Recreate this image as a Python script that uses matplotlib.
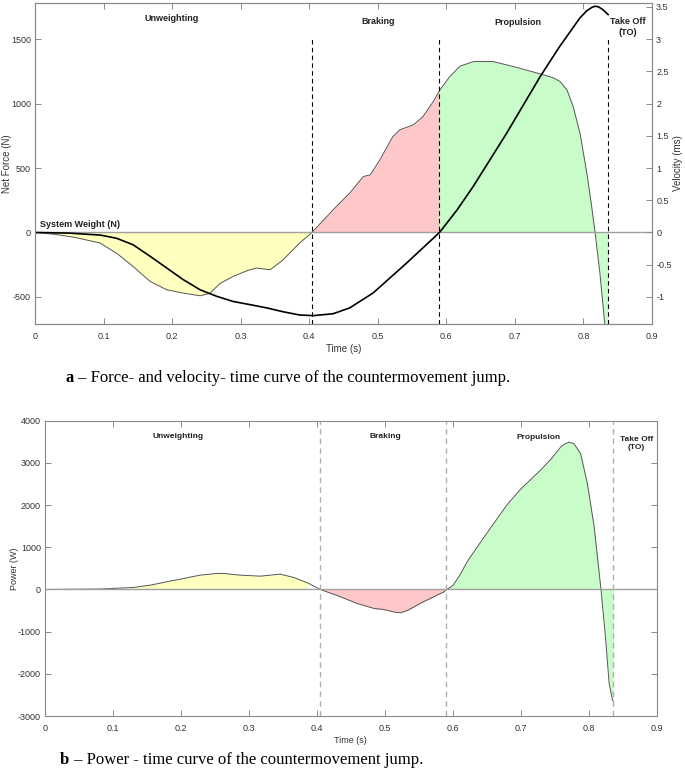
import numpy as np
import matplotlib
matplotlib.use("Agg")
import matplotlib.pyplot as plt

plt.rcParams['font.family'] = ['Liberation Sans', 'DejaVu Sans']
plt.rcParams['axes.unicode_minus'] = False

# ---------- data ----------
# net force (N) vs time (s)
force_t = [0, 0.03, 0.06, 0.095, 0.12, 0.143, 0.168, 0.192, 0.216, 0.241, 0.255, 0.27,
           0.289, 0.31, 0.323, 0.343, 0.362, 0.386, 0.404, 0.435, 0.459, 0.479, 0.489,
           0.503, 0.522, 0.532, 0.552, 0.566, 0.581, 0.590, 0.605, 0.620, 0.640, 0.668,
           0.698, 0.737, 0.756, 0.766, 0.776, 0.785, 0.795, 0.805, 0.812, 0.817, 0.824,
           0.831, 0.836]
force_n = [0, -15, -40, -82, -165, -263, -380, -444, -470, -491, -472, -395,
           -341, -295, -276, -289, -212, -82, 0, 176, 305, 434, 447,
           563, 744, 796, 835, 899, 1016, 1100, 1209, 1290, 1326, 1326,
           1287, 1230, 1200, 1171, 1106, 977, 770, 460, 202, 0, -315,
           -703, -950]

# velocity (m/s) vs time (s)
vel_t = [0, 0.05, 0.095, 0.119, 0.143, 0.168, 0.192, 0.216, 0.241, 0.265, 0.289, 0.314,
         0.338, 0.362, 0.386, 0.406, 0.435, 0.459, 0.493, 0.542, 0.590, 0.615, 0.639,
         0.688, 0.737, 0.765, 0.785, 0.795, 0.805, 0.812, 0.817, 0.822, 0.828, 0.832,
         0.836]
vel_ms = [0, -0.01, -0.04, -0.09, -0.19, -0.37, -0.55, -0.73, -0.89, -0.99, -1.07, -1.12,
          -1.17, -1.23, -1.28, -1.29, -1.26, -1.17, -0.94, -0.475, 0, 0.34, 0.71,
          1.54, 2.42, 2.88, 3.18, 3.33, 3.44, 3.49, 3.51, 3.50, 3.46, 3.42,
          3.38]

# power (W) vs time (s)
pow_t = [0, 0.081, 0.13, 0.155, 0.179, 0.204, 0.228, 0.253, 0.263, 0.287, 0.317, 0.346,
         0.366, 0.386, 0.405, 0.435, 0.459, 0.484, 0.498, 0.515, 0.523, 0.533, 0.543,
         0.557, 0.567, 0.577, 0.587, 0.591, 0.600, 0.610, 0.622, 0.640, 0.660, 0.680,
         0.700, 0.729, 0.745, 0.759, 0.766, 0.771, 0.778, 0.788, 0.798, 0.808, 0.818,
         0.825, 0.830, 0.835, 0.836]
pow_w = [0, 10, 47, 102, 181, 260, 339, 379, 379, 339, 315, 363,
         284, 158, 0, -174, -332, -450, -474, -540, -553, -500, -412,
         -290, -213, -134, -57, 0, 90, 330, 680, 1100, 1560, 2010,
         2380, 2827, 3100, 3380, 3460, 3490, 3460, 3223, 2512, 1483, 0,
         -1201, -2227, -2623, -2650]

# phase boundaries (s)
t_brake = 0.404
t_prop = 0.590
t_to = 0.836

phases = ["Unweighting", "Braking", "Propulsion", "Take Off\n(TO)"]
phase_cols = ["#ffffc0", "#ffc8c8", "#c8fcc8"]

spine_col = "#8a8a8a"
txt_col = "#333333"

fig = plt.figure(figsize=(6.85, 7.68), dpi=100)


def style(ax):
    for s in ax.spines.values():
        s.set_color(spine_col)
        s.set_linewidth(0.8)
    ax.tick_params(direction="in", length=4, width=0.7, color=spine_col,
                   labelsize=6.5, labelcolor=txt_col, pad=3)


def shade(ax, t, y):
    t = np.array(t)
    y = np.array(y)
    bounds = [0, t_brake, t_prop, t_to]
    for i in range(3):
        m = (t >= bounds[i] - 1e-9) & (t <= bounds[i + 1] + 1e-9)
        ax.fill_between(t[m], y[m], 0, color=phase_cols[i], lw=0)
    ax.plot(t, y, color="#555555", lw=0.7)


xt = np.arange(0, 0.91, 0.1)
xtl = ["0", "0.1", "0.2", "0.3", "0.4", "0.5", "0.6", "0.7", "0.8", "0.9"]

# ---------- (a) force and velocity ----------
ax1 = fig.add_axes([0.0511, 0.5781, 0.9007, 0.418])
shade(ax1, force_t, force_n)
ax1.axhline(0, color="#a0a0a0", lw=1.0)
for tx in [t_brake, t_prop, t_to]:
    ax1.plot([tx, tx], [-710, 1500], color="black", lw=0.8, ls=(0, (4, 3)))
ax1.set_xlim(0, 0.9)
ax1.set_ylim(-710, 1780)
ax1.set_xticks(xt)
ax1.set_xticklabels(xtl)
ax1.set_yticks([-500, 0, 500, 1000, 1500])
style(ax1)
ax1.tick_params(axis="x", top=True, pad=6)
ax1.set_xlabel("Time (s)", fontsize=7, color=txt_col, labelpad=2)
ax1.set_ylabel("Net Force (N)", fontsize=7, color=txt_col)
ax1.yaxis.set_label_coords(-0.037, 0.5)

ax2 = ax1.twinx()
ax2.plot(vel_t, vel_ms, color="black", lw=1.2)
ax2.set_ylim(-1.42, 3.56)
ax2.set_yticks(np.arange(-1, 3.51, 0.5))
ax2.set_yticklabels(["-1", "-0.5", "0", "0.5", "1", "1.5", "2", "2.5", "3", "3.5"])
style(ax2)
ax2.set_ylabel("Velocity (ms)", fontsize=7, color=txt_col)
ax2.yaxis.set_label_coords(1.034, 0.5)

lab_a = [(0.2, 1657), (0.5, 1640), (0.704, 1625), (0.865, 1595)]
for name, (x, y) in zip(phases, lab_a):
    ax1.text(x, y, name, ha="center", va="center", fontsize=6.5,
             fontweight="bold", color="#222222", linespacing=1.3)
ax1.text(0.008, 25, "System Weight (N)", ha="left", va="bottom", fontsize=6.5,
         fontweight="bold", color="#222222")

# ---------- (b) power ----------
ax3 = fig.add_axes([0.0657, 0.0677, 0.893, 0.3845])
shade(ax3, pow_t, pow_w)
ax3.axhline(0, color="#a0a0a0", lw=1.0)
for tx in [t_brake, t_prop, t_to]:
    ax3.axvline(tx, color="#b0b0b0", lw=1.0, ls=(0, (4, 3)))
ax3.set_xlim(0, 0.9)
ax3.set_ylim(-3000, 4000)
ax3.set_xticks(xt)
ax3.set_xticklabels(xtl)
ax3.set_yticks(np.arange(-3000, 4001, 1000))
style(ax3)
ax3.tick_params(top=True, right=True)
ax3.tick_params(axis="x", pad=6)
ax3.set_xlabel("Time (s)", fontsize=6.5, color=txt_col, labelpad=2)
ax3.set_ylabel("Power (W)", fontsize=6.5, color=txt_col)
ax3.yaxis.set_label_coords(-0.043, 0.5)

lab_b = [(0.196, 3616), (0.501, 3630), (0.726, 3610), (0.87, 3460)]
for name, (x, y) in zip(phases, lab_b):
    ax3.text(x, y, name, ha="center", va="center", fontsize=6,
             fontweight="bold", color="#222222", linespacing=1.3)

# ---------- captions ----------
fig.canvas.draw()
rend = fig.canvas.get_renderer()
W = fig.bbox.width


def caption(x, y, lead, rest):
    t = fig.text(x, y, lead, fontsize=12, va="center", family="Liberation Serif",
                 fontweight="bold")
    bb = t.get_window_extent(renderer=rend)
    fig.text(bb.x1 / W, y, " \u2013 " + rest, fontsize=12, va="center",
             family="Liberation Serif")


caption(0.096, 1 - 378 / 768, "a",
        "Force- and velocity- time curve of the countermovement jump.")
caption(0.088, 1 - 760 / 768, "b",
        "Power - time curve of the countermovement jump.")

fig.savefig("out.png", dpi=100)
